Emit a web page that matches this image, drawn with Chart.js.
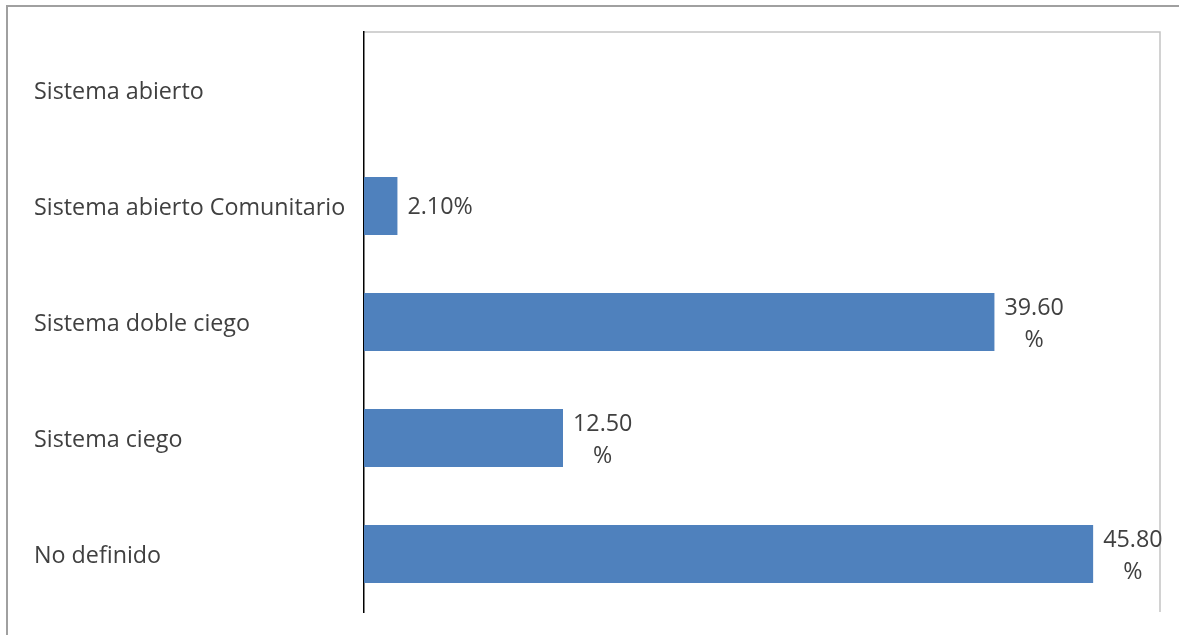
<!DOCTYPE html>
<html>
<head>
<meta charset="utf-8">
<script src="https://cdn.jsdelivr.net/npm/chart.js@4.4.1/dist/chart.umd.min.js"></script>
<style>
  html, body { margin: 0; padding: 0; background: #fff; }
  #wrap { width: 1179px; height: 635px; position: relative; }
</style>
</head>
<body>
<div id="wrap"><canvas id="sistemaChart" width="1179" height="635"></canvas></div>
<script>
// categories, top to bottom
const categoryLabels = [
    'Sistema abierto',
    'Sistema abierto Comunitario',
    'Sistema doble ciego',
    'Sistema ciego',
    'No definido'
];

// percentages
const percentValues = [null, 2.1, 39.6, 12.5, 45.8];

const axisMin = 0;
const axisMax = 50;

const fontFamily = '"Open Sans"';
const fontSize = 23.3;
const textColor = '#404040';

//Frame lines round the chart and the plot area
const framePlugin = {
    id: 'frameLines',
    beforeDraw(chart) {
        const ctx = chart.ctx;
        const a = chart.chartArea;
        ctx.save();
        // outer frame (top + left)
        ctx.strokeStyle = '#a0a0a0';
        ctx.lineWidth = 2;
        ctx.beginPath();
        ctx.moveTo(7, 635);
        ctx.lineTo(7, 6);
        ctx.lineTo(1179, 6);
        ctx.stroke();
        // plot area (top + right)
        ctx.strokeStyle = '#c4c4c4';
        ctx.lineWidth = 1.5;
        ctx.beginPath();
        ctx.moveTo(a.left, a.top);
        ctx.lineTo(a.right, a.top);
        ctx.lineTo(a.right, a.bottom);
        ctx.stroke();
        ctx.restore();
    }
};

//Value labels next to the bars
const valueLabelPlugin = {
    id: 'valueLabels',
    afterDatasetsDraw(chart) {
        const ctx = chart.ctx;
        const meta = chart.getDatasetMeta(0);
        ctx.save();
        ctx.font = fontSize + 'px ' + fontFamily;
        ctx.fillStyle = textColor;
        ctx.textBaseline = 'middle';
        meta.data.forEach((bar, i) => {
            const v = percentValues[i];
            if (v === null || v === undefined) return;
            const txt = v.toFixed(2);
            const x = bar.x + 10;
            if (v < 10) {
                ctx.textAlign = 'left';
                ctx.fillText(txt + '%', x, bar.y + 1);
            } else {
                const w = ctx.measureText(txt).width;
                ctx.textAlign = 'center';
                ctx.fillText(txt, x + w / 2, bar.y - 14);
                ctx.fillText('%', x + w / 2, bar.y + 18);
            }
        });
        ctx.restore();
    }
};

const sistemaData = {
    labels: categoryLabels,
    datasets: [{
        label: 'Sistema',
        backgroundColor: 'rgb(79, 129, 189)',
        borderWidth: 0,
        data: percentValues,
        categoryPercentage: 1.0,
        barPercentage: 0.5
    }]
};

const sistemaConfig = {
    type: 'bar',
    data: sistemaData,
    options: {
        indexAxis: 'y',
        responsive: false,
        animation: false,
        events: [],
        layout: {
            padding: { top: 32, right: 19, bottom: 23, left: 34 }
        },
        plugins: {
            legend: { display: false },
            tooltip: { enabled: false },
            title: { display: false }
        },
        scales: {
            x: {
                display: false,
                min: axisMin,
                max: axisMax
            },
            y: {
                afterFit(scale) { scale.width = 330; },
                grid: { display: false },
                border: { display: true, color: '#000000', width: 1.5 },
                ticks: {
                    crossAlign: 'far',
                    color: textColor,
                    labelOffset: 2,
                    font: { family: fontFamily, size: fontSize }
                }
            }
        }
    },
    plugins: [framePlugin, valueLabelPlugin]
};

var sistemaChart = new Chart(
    document.getElementById('sistemaChart'),
    sistemaConfig
);
</script>
</body>
</html>
